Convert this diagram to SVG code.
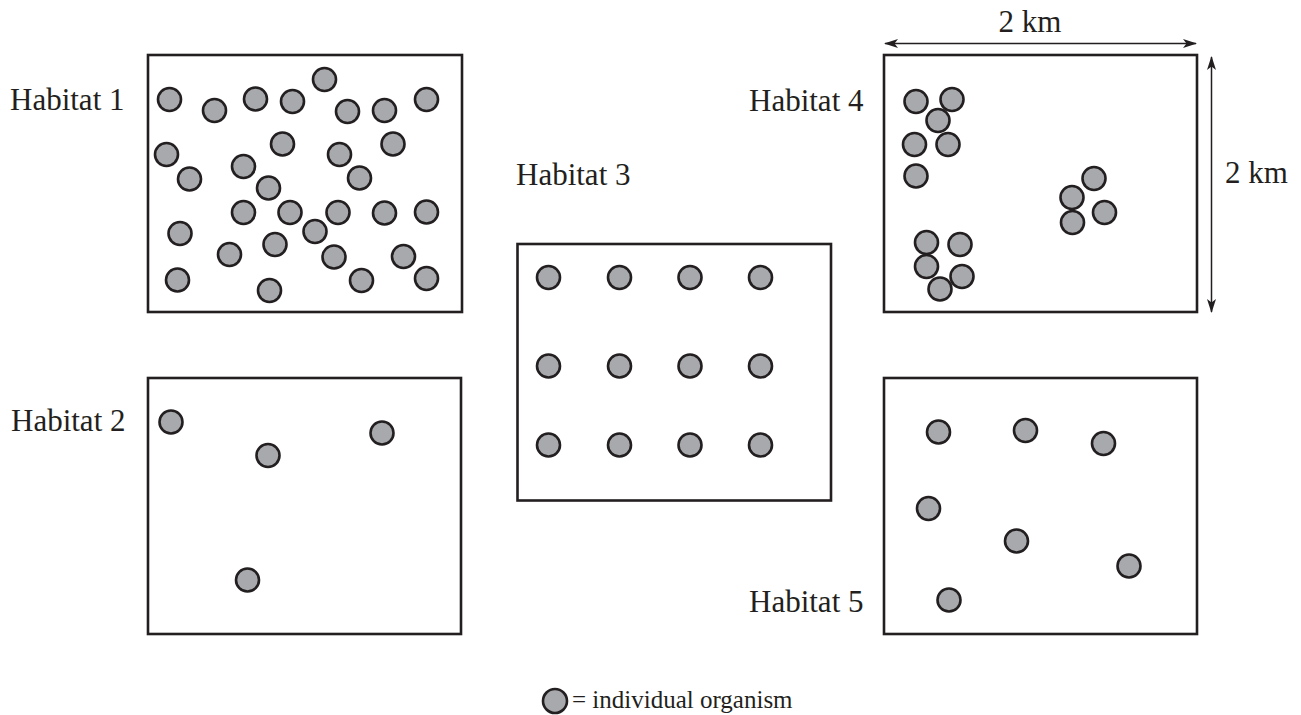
<svg xmlns="http://www.w3.org/2000/svg" width="1301" height="715" viewBox="0 0 1301 715">
<style>
.box{fill:none;stroke:#231f20;stroke-width:2.6}
.org{fill:#a7a9ac;stroke:#231f20;stroke-width:2.6}
.lbl{font-family:"Liberation Serif","Times New Roman",serif;font-size:31px;fill:#231f20}
.leg{font-family:"Liberation Serif","Times New Roman",serif;font-size:25px;fill:#231f20}
.dim{fill:none;stroke:#231f20;stroke-width:1.5}
</style>
<defs>
<marker id="ah" viewBox="0 0 14 10" refX="13" refY="5" markerWidth="14" markerHeight="10" markerUnits="userSpaceOnUse" orient="auto-start-reverse">
<path d="M0,0.5 L14,5 L0,9.5 L3.5,5 Z" fill="#231f20"/>
</marker>
</defs>
<rect width="1301" height="715" fill="#fff"/>

<g id="habitat1">
<text class="lbl" x="10" y="110">Habitat 1</text>
<rect class="box" x="148" y="55" width="314" height="257"/>
<circle class="org" cx="169.5" cy="99.5" r="11.5"/>
<circle class="org" cx="214.5" cy="110.5" r="11.5"/>
<circle class="org" cx="255.5" cy="99" r="11.5"/>
<circle class="org" cx="292.5" cy="101.5" r="11.5"/>
<circle class="org" cx="324.5" cy="79.5" r="11.5"/>
<circle class="org" cx="347.5" cy="111.5" r="11.5"/>
<circle class="org" cx="384.5" cy="110.5" r="11.5"/>
<circle class="org" cx="426.5" cy="99.5" r="11.5"/>
<circle class="org" cx="166.5" cy="154.5" r="11.5"/>
<circle class="org" cx="282.5" cy="144" r="11.5"/>
<circle class="org" cx="339.5" cy="154.5" r="11.5"/>
<circle class="org" cx="393" cy="144" r="11.5"/>
<circle class="org" cx="189.5" cy="179" r="11.5"/>
<circle class="org" cx="243.5" cy="166.5" r="11.5"/>
<circle class="org" cx="268.5" cy="188" r="11.5"/>
<circle class="org" cx="359.5" cy="178" r="11.5"/>
<circle class="org" cx="243.5" cy="212.5" r="11.5"/>
<circle class="org" cx="290" cy="212.5" r="11.5"/>
<circle class="org" cx="338" cy="212.5" r="11.5"/>
<circle class="org" cx="384.5" cy="213" r="11.5"/>
<circle class="org" cx="426.5" cy="212" r="11.5"/>
<circle class="org" cx="180" cy="233.5" r="11.5"/>
<circle class="org" cx="315" cy="231.5" r="11.5"/>
<circle class="org" cx="275" cy="244.5" r="11.5"/>
<circle class="org" cx="229.5" cy="254.5" r="11.5"/>
<circle class="org" cx="334" cy="257" r="11.5"/>
<circle class="org" cx="403.5" cy="256.5" r="11.5"/>
<circle class="org" cx="177.5" cy="280" r="11.5"/>
<circle class="org" cx="269.5" cy="290.5" r="11.5"/>
<circle class="org" cx="361.5" cy="280.5" r="11.5"/>
<circle class="org" cx="426.5" cy="278.5" r="11.5"/>
</g>

<g id="habitat2">
<text class="lbl" x="11" y="431">Habitat 2</text>
<rect class="box" x="148" y="378" width="313" height="256"/>
<circle class="org" cx="171" cy="422" r="11.5"/>
<circle class="org" cx="268" cy="455.5" r="11.5"/>
<circle class="org" cx="382" cy="433" r="11.5"/>
<circle class="org" cx="247.5" cy="580" r="11.5"/>
</g>

<g id="habitat3">
<text class="lbl" x="516" y="185">Habitat 3</text>
<rect class="box" x="517.5" y="244" width="313.5" height="256.5"/>
<circle class="org" cx="548.5" cy="277.5" r="11.5"/>
<circle class="org" cx="619.5" cy="277.5" r="11.5"/>
<circle class="org" cx="690" cy="277.5" r="11.5"/>
<circle class="org" cx="760.5" cy="277.5" r="11.5"/>
<circle class="org" cx="548.5" cy="366" r="11.5"/>
<circle class="org" cx="619.5" cy="366" r="11.5"/>
<circle class="org" cx="690" cy="366" r="11.5"/>
<circle class="org" cx="760.5" cy="366" r="11.5"/>
<circle class="org" cx="548.5" cy="445" r="11.5"/>
<circle class="org" cx="619.5" cy="445" r="11.5"/>
<circle class="org" cx="690" cy="445" r="11.5"/>
<circle class="org" cx="760.5" cy="445" r="11.5"/>
</g>

<g id="habitat4">
<text class="lbl" x="749" y="111">Habitat 4</text>
<rect class="box" x="884" y="55" width="313" height="257"/>
<circle class="org" cx="916" cy="101.5" r="11.5"/>
<circle class="org" cx="952" cy="99.5" r="11.5"/>
<circle class="org" cx="938" cy="120.5" r="11.5"/>
<circle class="org" cx="914.5" cy="144.5" r="11.5"/>
<circle class="org" cx="948" cy="144.5" r="11.5"/>
<circle class="org" cx="916" cy="176" r="11.5"/>
<circle class="org" cx="1094" cy="178.5" r="11.5"/>
<circle class="org" cx="1072" cy="197.5" r="11.5"/>
<circle class="org" cx="1104.5" cy="212.5" r="11.5"/>
<circle class="org" cx="1072.5" cy="222.5" r="11.5"/>
<circle class="org" cx="926.5" cy="242.5" r="11.5"/>
<circle class="org" cx="960" cy="244.5" r="11.5"/>
<circle class="org" cx="926.5" cy="266.5" r="11.5"/>
<circle class="org" cx="962" cy="276.5" r="11.5"/>
<circle class="org" cx="940" cy="289" r="11.5"/>
</g>

<g id="habitat5">
<text class="lbl" x="749" y="612">Habitat 5</text>
<rect class="box" x="884" y="378" width="313" height="256"/>
<circle class="org" cx="938.5" cy="432" r="11.5"/>
<circle class="org" cx="1025.5" cy="430.5" r="11.5"/>
<circle class="org" cx="1103.5" cy="443.5" r="11.5"/>
<circle class="org" cx="928.5" cy="508.5" r="11.5"/>
<circle class="org" cx="1016.5" cy="541" r="11.5"/>
<circle class="org" cx="1129" cy="566" r="11.5"/>
<circle class="org" cx="949" cy="600" r="11.5"/>
</g>

<g id="connectors">
<line class="dim" x1="885" y1="43.5" x2="1196" y2="43.5" marker-start="url(#ah)" marker-end="url(#ah)"/>
<line class="dim" x1="1211.5" y1="57" x2="1211.5" y2="312" marker-start="url(#ah)" marker-end="url(#ah)"/>
</g>

<g id="dimension-labels">
<text class="lbl" x="1030" y="32" text-anchor="middle">2 km</text>
<text class="lbl" x="1225" y="183">2 km</text>
</g>

<g id="legend">
<circle class="org" cx="555" cy="701" r="12"/>
<text class="leg" x="572" y="708">= individual organism</text>
</g>
</svg>
